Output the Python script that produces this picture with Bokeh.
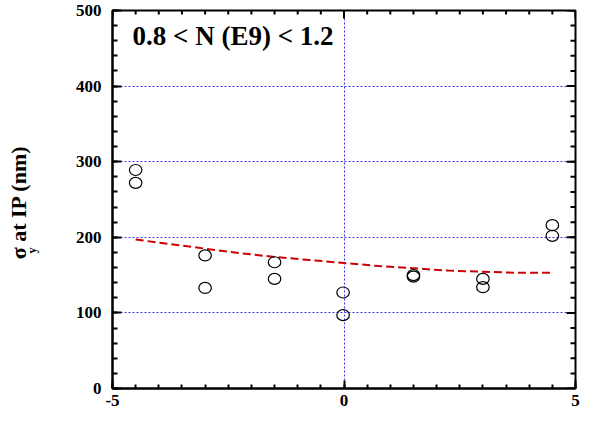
import math
from bokeh.plotting import figure
from bokeh.models import (LinearAxis, FixedTicker, CustomJSTickFormatter, Label,
                          Range1d, ColumnDataSource, Grid, Title)
from bokeh.embed import file_html
from bokeh.resources import INLINE

# ---- data ----
offset_x = [-4.5, -4.5, -3.0, -3.0, -1.5, -1.5, -0.02, -0.02, 1.5, 1.5, 3.0, 3.0, 4.5, 4.5]
sigma_y = [289, 272, 176, 133, 167, 145, 127, 97, 150, 148, 145, 134, 216, 202]

fit_x = [-4.5, -3.75, -3.0, -2.25, -1.5, -0.75, 0.0, 0.75, 1.5, 2.25, 3.0, 3.75, 4.5]
fit_y = [197, 191, 185, 179, 174, 170, 166, 162, 159, 156, 154.5, 153, 153]

x_major = [-5, 0, 5]
x_minor = [-5 + 0.5 * i for i in range(21)]
y_major = [0, 100, 200, 300, 400, 500]
y_minor = [20 * i for i in range(26)]

title_text = "0.8 < N (E9) < 1.2"
ylabel_main = "σ  at IP (nm)"
ylabel_sub = "y"

FONT = "Liberation Serif"
X_LO, X_HI = -5, 5
Y_LO, Y_HI = 0, 500

# ---- layout ----
W, H = 580, 415
ML, MR, MT, MB = 112, 5, 10, 27
FW = W - ML - MR
FH = H - MT - MB

def px2x(page_x):
    return X_LO + (page_x - 8 - ML) * (X_HI - X_LO) / FW

def px2y(page_y):
    return (MT + FH - (page_y - 8)) * (Y_HI - Y_LO) / FH

p = figure(width=W, height=H, output_backend="svg", toolbar_location=None,
           x_range=Range1d(X_LO, X_HI), y_range=Range1d(Y_LO, Y_HI),
           min_border_left=ML, min_border_right=MR, min_border_top=MT,
           min_border_bottom=MB, x_axis_location=None, y_axis_location=None)
p.center = [r for r in p.center if not isinstance(r, Grid)]
p.background_fill_color = "white"
p.border_fill_color = "white"
p.outline_line_color = "black"
p.outline_line_width = 2

xt = FixedTicker(ticks=x_major, minor_ticks=x_minor)
yt = FixedTicker(ticks=y_major, minor_ticks=y_minor)
plain = CustomJSTickFormatter(code="return tick.toString()")

def style(ax, major_in, minor_in):
    ax.axis_line_color = "black"
    ax.axis_line_width = 2
    ax.major_tick_line_color = "black"
    ax.minor_tick_line_color = "black"
    ax.major_tick_line_width = 2
    ax.minor_tick_line_width = 2
    ax.major_tick_in = major_in
    ax.major_tick_out = 0
    ax.minor_tick_in = minor_in
    ax.minor_tick_out = 0
    ax.major_label_text_font = FONT
    ax.major_label_text_font_style = "bold"
    ax.major_label_text_color = "black"
    ax.major_label_text_font_size = "17px"
    ax.formatter = plain

left = LinearAxis(ticker=yt, major_label_standoff=11)
style(left, 9, 5)
# subscript "y" of sigma: axis label, pushed toward the sigma with no-break spaces
left.axis_label = ylabel_sub + "\u00a0" * 34
left.axis_label_text_font = FONT
left.axis_label_text_font_style = "bold"
left.axis_label_text_font_size = "12px"
left.axis_label_text_color = "black"
left.axis_label_standoff = 34
bottom = LinearAxis(ticker=xt, major_label_standoff=6)
style(bottom, 8, 4)
p.add_layout(left, "left")
p.add_layout(bottom, "below")

# main part of the y title, outside the axis
p.add_layout(Title(text=ylabel_main, text_font=FONT, text_font_style="bold",
                   text_font_size="22px", align="center", standoff=-18,
                   text_color="black"), "left")

# inward ticks on the right and top frame edges
p.ray([X_HI] * len(y_major), y_major, length=9, angle=math.pi, length_units="screen",
      line_color="black", line_width=2)
p.ray([X_HI] * len(y_minor), y_minor, length=5, angle=math.pi, length_units="screen",
      line_color="black", line_width=2)
p.ray(x_major, [Y_HI] * len(x_major), length=8, angle=-math.pi / 2,
      length_units="screen", line_color="black", line_width=2)
p.ray(x_minor, [Y_HI] * len(x_minor), length=4, angle=-math.pi / 2,
      length_units="screen", line_color="black", line_width=2)

gx = Grid(dimension=0, ticker=xt, grid_line_color="#3535f0", grid_line_dash="2 2",
          grid_line_width=1)
gy = Grid(dimension=1, ticker=yt, grid_line_color="#3535f0", grid_line_dash="2 2",
          grid_line_width=1)
p.add_layout(gx)
p.add_layout(gy)

fit_src = ColumnDataSource(dict(x=fit_x, y=fit_y))
p.line("x", "y", source=fit_src, line_color="#cc0000", line_width=2,
       line_dash="8 4")

pts = ColumnDataSource(dict(x=offset_x, y=sigma_y))
p.ellipse("x", "y", source=pts, width=12.5, height=11, width_units="screen",
          height_units="screen", fill_color=None, line_color="black",
          line_width=1.2)

p.add_layout(Label(x=px2x(140), y=px2y(43), text=title_text,
                   text_font=FONT, text_font_style="bold",
                   text_font_size="27px", text_align="left",
                   text_baseline="middle", text_color="black"))

open("out.html", "w").write(file_html(p, INLINE))
